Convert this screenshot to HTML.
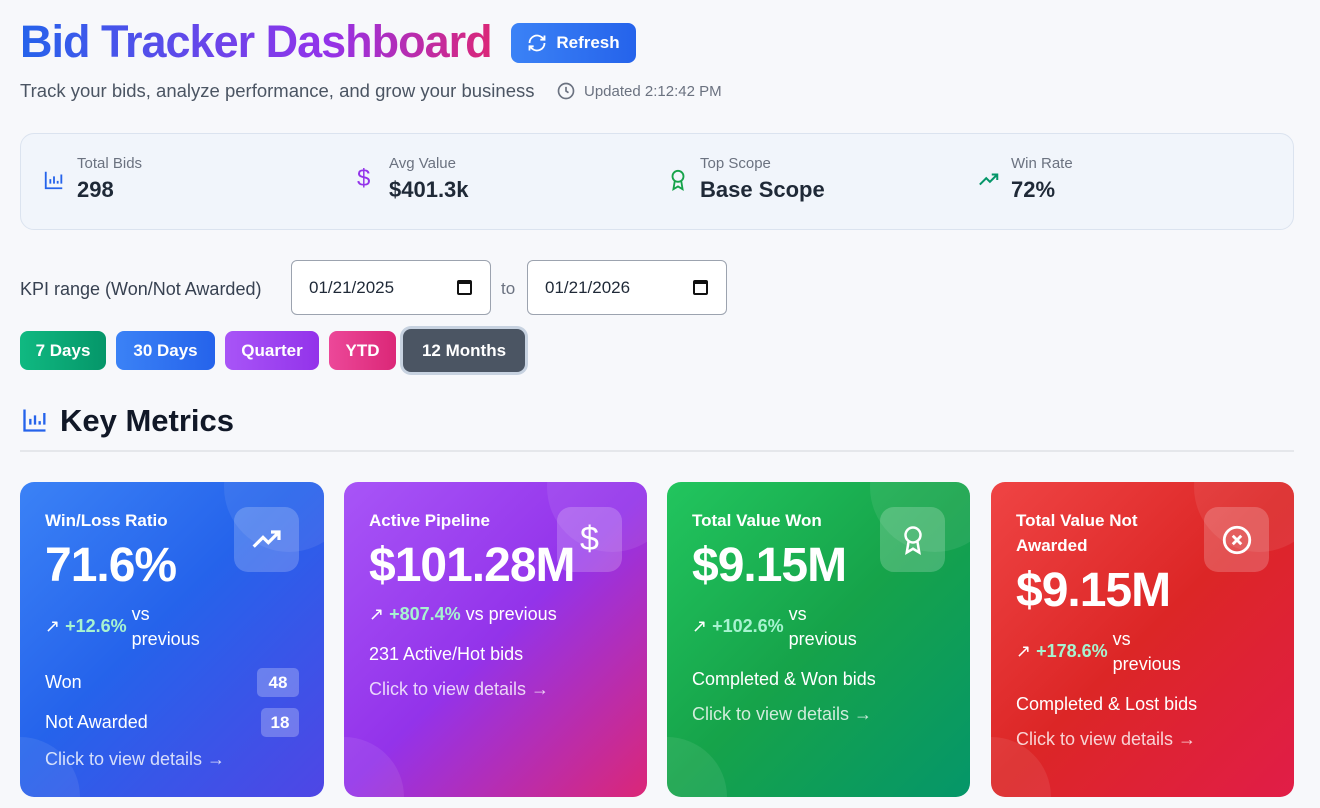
<!DOCTYPE html>
<html><head><meta charset="utf-8"><style>
*{box-sizing:border-box;margin:0;padding:0}
html,body{width:1320px;height:808px;overflow:hidden}
body{background:#f7f8fb;font-family:"Liberation Sans","DejaVu Sans",sans-serif;color:#1f2937;position:relative}
.abs{position:absolute}
h1{position:absolute;left:20px;top:16px;font-size:45px;font-weight:700;letter-spacing:-1px;background:linear-gradient(90deg,#2563eb,#9333ea 65%,#db2777);-webkit-background-clip:text;background-clip:text;color:transparent}
.btn{position:absolute;border-radius:8px;color:#fff;font-size:17px;font-weight:700;display:flex;align-items:center;justify-content:center}
.stats{position:absolute;left:20px;top:133px;width:1274px;height:97px;border:1px solid #dbe3ef;border-radius:14px;background:#f1f5fb}
.stat{position:absolute;top:21px}
.stat .l{font-size:15px;color:#6b7280}
.stat .v{font-size:22px;font-weight:700;color:#1f2937;margin-top:5px}
.date{position:absolute;top:260px;width:200px;height:55px;border:1px solid #9ca3af;border-radius:6px;background:#fff;font-size:17px;padding:17px 0 0 17px}
.card{position:absolute;top:482px;height:315px;width:304px;border-radius:14px;color:#fff;overflow:hidden}
.card .t{position:absolute;left:25px;top:26px;font-size:17px;font-weight:700;line-height:25px}
.card .big{position:absolute;left:25px;font-size:48px;font-weight:700;letter-spacing:-1px}
.card .ic{position:absolute;right:25px;top:25px;width:65px;height:65px;border-radius:14px;background:rgba(255,255,255,.2);display:flex;align-items:center;justify-content:center}
.card .txt{position:absolute;left:25px;font-size:18px}
.g{color:#a7f3d0;font-weight:700}
.circ{position:absolute;border-radius:50%;background:rgba(255,255,255,.08)}
.badge{position:absolute;right:25px;height:29px;background:rgba(255,255,255,.25);border-radius:5px;font-weight:700;font-size:17px;display:flex;align-items:center;justify-content:center}
</style></head><body>
<h1>Bid Tracker Dashboard</h1>
<div class="btn" style="left:511px;top:23px;width:125px;height:40px;background:linear-gradient(90deg,#3b82f6,#2563eb)">
<svg width="20" height="20" viewBox="0 0 24 24" fill="none" stroke="#fff" stroke-width="2.2" style="margin-right:9px"><path d="M3 12a9 9 0 0 1 15-6.7L21 8M21 3v5h-5M21 12a9 9 0 0 1-15 6.7L3 16M3 21v-5h5"/></svg>Refresh</div>
<div class="abs" style="left:20px;top:80px;font-size:18.5px;color:#4b5563">Track your bids, analyze performance, and grow your business</div>
<div class="abs" style="left:556px;top:81px;font-size:15px;color:#6b7280;display:flex;align-items:center"><svg width="20" height="20" viewBox="0 0 24 24" fill="none" stroke="#6b7280" stroke-width="2" style="margin-right:8px"><circle cx="12" cy="12" r="9"/><path d="M12 7v5l3 2"/></svg>Updated 2:12:42 PM</div>

<div class="stats">
<div class="stat" style="left:22px"><svg class="abs" style="left:0;top:14px" width="22" height="22" viewBox="0 0 24 24" fill="none" stroke="#2563eb" stroke-width="2"><path d="M3 3v18h18M8 16v-5M12 16V8M16 16v-3M20 16V6"/></svg><div style="margin-left:34px"><div class="l">Total Bids</div><div class="v">298</div></div></div>
<div class="stat" style="left:336px"><div class="abs" style="left:0;top:10px;color:#9333ea;font-size:24px">$</div><div style="margin-left:32px"><div class="l">Avg Value</div><div class="v">$401.3k</div></div></div>
<div class="stat" style="left:646px"><svg class="abs" style="left:0;top:12px" width="22" height="26" viewBox="0 0 24 24" fill="none" stroke="#16a34a" stroke-width="2"><circle cx="12" cy="8" r="6"/><path d="M8.5 13L7 22l5-3 5 3-1.5-9"/></svg><div style="margin-left:33px"><div class="l">Top Scope</div><div class="v">Base Scope</div></div></div>
<div class="stat" style="left:956px"><svg class="abs" style="left:0;top:14px" width="24" height="22" viewBox="0 0 24 24" fill="none" stroke="#059669" stroke-width="2.2"><path d="M2 17l7-7 4 4 8-8M15 6h6v6"/></svg><div style="margin-left:34px"><div class="l">Win Rate</div><div class="v">72%</div></div></div>
</div>

<div class="abs" style="left:20px;top:279px;font-size:18px;color:#374151">KPI range (Won/Not Awarded)</div>
<div class="date" style="left:291px">01/21/2025<span class="abs" style="right:18px;top:19px;width:15px;height:15px;border:2px solid #111;border-top-width:4px;border-radius:2px"></span></div>
<div class="abs" style="left:501px;top:279px;font-size:17px;color:#6b7280">to</div>
<div class="date" style="left:527px">01/21/2026<span class="abs" style="right:18px;top:19px;width:15px;height:15px;border:2px solid #111;border-top-width:4px;border-radius:2px"></span></div>

<div class="btn" style="left:20px;top:331px;width:86px;height:39px;background:linear-gradient(90deg,#10b981,#059669)">7 Days</div>
<div class="btn" style="left:116px;top:331px;width:99px;height:39px;background:linear-gradient(90deg,#3b82f6,#2563eb)">30 Days</div>
<div class="btn" style="left:225px;top:331px;width:94px;height:39px;background:linear-gradient(90deg,#a855f7,#9333ea)">Quarter</div>
<div class="btn" style="left:329px;top:331px;width:67px;height:39px;background:linear-gradient(90deg,#ec4899,#db2777)">YTD</div>
<div class="btn" style="left:403px;top:329px;width:122px;height:43px;background:#4b5563;box-shadow:0 0 0 3px #c7d2e0">12 Months</div>

<svg class="abs" style="left:21px;top:406px" width="28" height="28" viewBox="0 0 24 24" fill="none" stroke="#2563eb" stroke-width="2"><path d="M3 3v18h18M8 16v-5M12 16V8M16 16v-3M20 16V6"/></svg>
<div class="abs" style="left:60px;top:403px;font-size:31px;font-weight:700;color:#111827">Key Metrics</div>
<div class="abs" style="left:20px;top:450px;width:1274px;height:2px;background:#e5e7eb"></div>

<div class="card" style="left:20px;background:linear-gradient(135deg,#3b82f6,#2563eb 45%,#4f46e5)">
<div class="circ" style="right:-30px;top:-60px;width:130px;height:130px"></div><div class="circ" style="left:-60px;bottom:-60px;width:120px;height:120px"></div>
<div class="t">Win/Loss Ratio</div><div class="big" style="top:56px">71.6%</div>
<div class="ic"><svg width="32" height="32" viewBox="0 0 24 24" fill="none" stroke="#fff" stroke-width="2.4"><path d="M2 17l7-7 4 4 8-8M15 6h6v6"/></svg></div>
<div class="txt" style="top:120px;line-height:25px"><span style="display:inline-block;vertical-align:top;margin-top:12px">↗ <span class="g">+12.6%</span></span> <span style="display:inline-block">vs<br>previous</span></div>
<div class="txt" style="top:190px">Won</div><div class="badge" style="top:186px;width:42px">48</div>
<div class="txt" style="top:230px">Not Awarded</div><div class="badge" style="top:226px;width:38px">18</div>
<div class="txt" style="top:267px;color:rgba(255,255,255,.8)">Click to view details →</div></div>

<div class="card" style="left:344px;width:303px;background:linear-gradient(135deg,#a855f7,#9333ea 50%,#db2777)">
<div class="circ" style="right:-30px;top:-60px;width:130px;height:130px"></div><div class="circ" style="left:-60px;bottom:-60px;width:120px;height:120px"></div>
<div class="t">Active Pipeline</div><div class="big" style="top:56px">$101.28M</div>
<div class="ic" style="font-size:34px">$</div>
<div class="txt" style="top:122px">↗ <span class="g">+807.4%</span> vs previous</div>
<div class="txt" style="top:162px">231 Active/Hot bids</div>
<div class="txt" style="top:197px;color:rgba(255,255,255,.8)">Click to view details →</div></div>

<div class="card" style="left:667px;width:303px;background:linear-gradient(135deg,#22c55e,#16a34a 50%,#059669)">
<div class="circ" style="right:-30px;top:-60px;width:130px;height:130px"></div><div class="circ" style="left:-60px;bottom:-60px;width:120px;height:120px"></div>
<div class="t">Total Value Won</div><div class="big" style="top:56px">$9.15M</div>
<div class="ic"><svg width="30" height="32" viewBox="0 0 24 24" fill="none" stroke="#fff" stroke-width="2"><circle cx="12" cy="8" r="6"/><path d="M8.5 13L7 22l5-3 5 3-1.5-9"/></svg></div>
<div class="txt" style="top:120px;line-height:25px"><span style="display:inline-block;vertical-align:top;margin-top:12px">↗ <span class="g">+102.6%</span></span> <span style="display:inline-block">vs<br>previous</span></div>
<div class="txt" style="top:187px">Completed &amp; Won bids</div>
<div class="txt" style="top:222px;color:rgba(255,255,255,.8)">Click to view details →</div></div>

<div class="card" style="left:991px;width:303px;background:linear-gradient(135deg,#ef4444,#dc2626 50%,#e11d48)">
<div class="circ" style="right:-30px;top:-60px;width:130px;height:130px"></div><div class="circ" style="left:-60px;bottom:-60px;width:120px;height:120px"></div>
<div class="t">Total Value Not<br>Awarded</div><div class="big" style="top:81px">$9.15M</div>
<div class="ic"><svg width="34" height="34" viewBox="0 0 24 24" fill="none" stroke="#fff" stroke-width="2"><circle cx="12" cy="12" r="9"/><path d="M9 9l6 6M15 9l-6 6"/></svg></div>
<div class="txt" style="top:145px;line-height:25px"><span style="display:inline-block;vertical-align:top;margin-top:12px">↗ <span class="g">+178.6%</span></span> <span style="display:inline-block">vs<br>previous</span></div>
<div class="txt" style="top:212px">Completed &amp; Lost bids</div>
<div class="txt" style="top:247px;color:rgba(255,255,255,.8)">Click to view details →</div></div>
</body></html>
